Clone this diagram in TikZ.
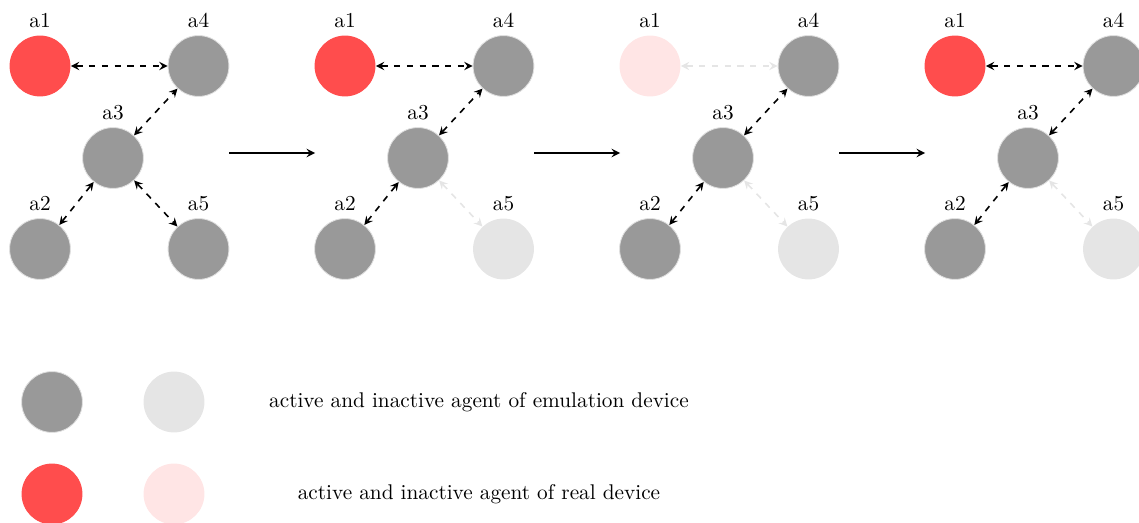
\documentclass[tikz,border=0pt]{standalone}
\usetikzlibrary{arrows}
\definecolor{act}{gray}{0.6}
\definecolor{inact}{gray}{0.9}
\definecolor{ract}{RGB}{255,77,77}
\definecolor{rinact}{RGB}{255,229,229}
\tikzset{
  agent/.style={circle, minimum size=28.6pt, inner sep=0pt},
  emuon/.style={agent, fill=act, draw=black!12, line width=0.4pt},
  emuoff/.style={agent, fill=inact},
  realon/.style={agent, fill=ract},
  realoff/.style={agent, fill=rinact},
  link/.style={<->, >=stealth, dashed, black, line width=0.75pt},
  linkoff/.style={<->, >=stealth, dashed, inact, line width=0.75pt},
  stepar/.style={->, >=stealth, line width=0.75pt},
  lbl/.style={font=\normalsize}
}
\begin{document}
\begin{tikzpicture}[x=0.47pt, y=-0.47pt]
\useasboundingbox (0,0) rectangle (1139,523);
% panel 1
\begin{scope}[shift={(0,0)}]
\node[realon, label=above:a1] (p1a1) at (40,66) {};
\node[emuon, label=above:a4] (p1a4) at (198.5,66) {};
\node[emuon, label=above:a3] (p1a3) at (113,158) {};
\node[emuon, label=above:a2] (p1a2) at (40,249) {};
\node[emuon, label=above:a5] (p1a5) at (198.5,249) {};
\draw[link] (p1a1) -- (p1a4);
\draw[link] (p1a3) -- (p1a4);
\draw[link] (p1a3) -- (p1a2);
\draw[link] (p1a3) -- (p1a5);
\end{scope}
% panel 2
\begin{scope}[shift={(305,0)}]
\node[realon, label=above:a1] (p2a1) at (40,66) {};
\node[emuon, label=above:a4] (p2a4) at (198.5,66) {};
\node[emuon, label=above:a3] (p2a3) at (113,158) {};
\node[emuon, label=above:a2] (p2a2) at (40,249) {};
\node[emuoff, label=above:a5] (p2a5) at (198.5,249) {};
\draw[link] (p2a1) -- (p2a4);
\draw[link] (p2a3) -- (p2a4);
\draw[link] (p2a3) -- (p2a2);
\draw[linkoff] (p2a3) -- (p2a5);
\end{scope}
% panel 3
\begin{scope}[shift={(610,0)}]
\node[realoff, label=above:a1] (p3a1) at (40,66) {};
\node[emuon, label=above:a4] (p3a4) at (198.5,66) {};
\node[emuon, label=above:a3] (p3a3) at (113,158) {};
\node[emuon, label=above:a2] (p3a2) at (40,249) {};
\node[emuoff, label=above:a5] (p3a5) at (198.5,249) {};
\draw[linkoff] (p3a1) -- (p3a4);
\draw[link] (p3a3) -- (p3a4);
\draw[link] (p3a3) -- (p3a2);
\draw[linkoff] (p3a3) -- (p3a5);
\end{scope}
% panel 4
\begin{scope}[shift={(915,0)}]
\node[realon, label=above:a1] (p4a1) at (40,66) {};
\node[emuon, label=above:a4] (p4a4) at (198.5,66) {};
\node[emuon, label=above:a3] (p4a3) at (113,158) {};
\node[emuon, label=above:a2] (p4a2) at (40,249) {};
\node[emuoff, label=above:a5] (p4a5) at (198.5,249) {};
\draw[link] (p4a1) -- (p4a4);
\draw[link] (p4a3) -- (p4a4);
\draw[link] (p4a3) -- (p4a2);
\draw[linkoff] (p4a3) -- (p4a5);
\end{scope}
% step arrows
\coordinate (s1a) at (229,153); \coordinate (s1b) at (315,153);
\coordinate (s2a) at (534,153); \coordinate (s2b) at (620,153);
\coordinate (s3a) at (839,153); \coordinate (s3b) at (925,153);
\draw[stepar] (s1a) -- (s1b);
\draw[stepar] (s2a) -- (s2b);
\draw[stepar] (s3a) -- (s3b);
% legend
\node[emuon] (le1) at (52,402) {};
\node[emuoff] (le2) at (174,402) {};
\node[realon] (lr1) at (52,494) {};
\node[realoff] (lr2) at (174,494) {};
\node[lbl] (t1) at (479,402) {active and inactive agent of emulation device};
\node[lbl] (t2) at (479,494) {active and inactive agent of real device};
\end{tikzpicture}
\end{document}
